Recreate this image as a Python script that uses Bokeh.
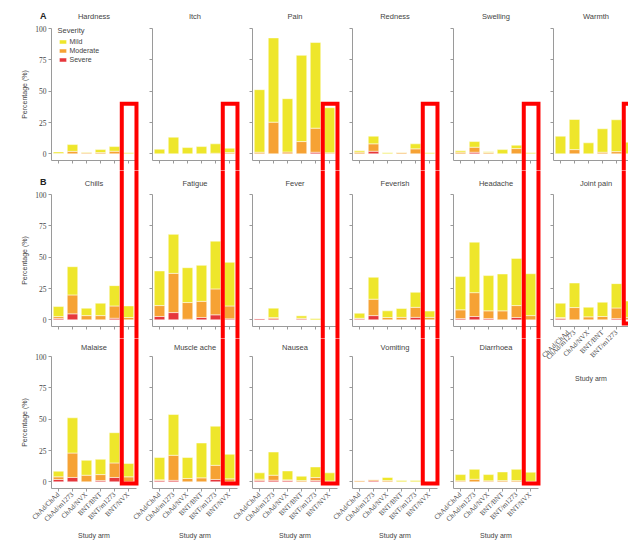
from bokeh.plotting import figure
from bokeh.layouts import row, column
from bokeh.models import (Range1d, FixedTicker, ColumnDataSource, Legend, LegendItem,
                          PolyAnnotation, Label, LinearAxis)
from bokeh.embed import file_html
from bokeh.resources import INLINE

# ---------------- data ----------------
arms = ["ChAd/ChAd", "ChAd/m1273", "ChAd/NVX", "BNT/BNT", "BNT/m1273", "BNT/NVX"]
severities = ["Mild", "Moderate", "Severe"]
yticks = [0, 25, 50, 75, 100]

hardness_mild = [1.2, 5.4, 0.5, 2.4, 3.7, 0.8]
hardness_moderate = [0.3, 2.0, 0.8, 1.0, 2.1, 0.0]
hardness_severe = [0, 0, 0, 0, 0, 0]

itch_mild = [3.7, 13.3, 5.0, 5.8, 7.5, 3.5]
itch_moderate = [0, 0, 0, 0, 0.5, 1.0]
itch_severe = [0, 0, 0, 0, 0, 0]

pain_mild = [49.9, 67.2, 42.5, 68.8, 68.3, 36.0]
pain_moderate = [1.3, 25.3, 1.5, 9.8, 19.2, 0.8]
pain_severe = [0, 0, 0, 0, 1.3, 0]

redness_mild = [1.1, 6.1, 0.8, 0.3, 4.0, 0.8]
redness_moderate = [1.3, 5.9, 0, 1.0, 4.0, 0]
redness_severe = [0, 2.1, 0, 0, 0, 0]

swelling_mild = [1.1, 4.5, 0.6, 3.4, 2.7, 0.8]
swelling_moderate = [1.3, 4.0, 1.0, 0, 4.2, 0]
swelling_severe = [0, 1.3, 0, 0, 0, 0]

warmth_mild = [14.1, 24.0, 8.8, 18.7, 25.4, 9.3]
warmth_moderate = [0, 3.4, 0, 1.3, 1.8, 0]
warmth_severe = [0, 0, 0, 0, 0, 0]

chills_mild = [8.0, 22.5, 5.9, 9.9, 16.2, 9.2]
chills_moderate = [1.6, 15.1, 3.4, 3.4, 9.8, 1.9]
chills_severe = [1.0, 4.8, 0, 0, 1.3, 0]

fatigue_mild = [27.6, 31.1, 27.8, 28.7, 38.1, 34.8]
fatigue_moderate = [8.7, 31.3, 13.3, 12.9, 20.7, 10.3]
fatigue_severe = [2.7, 5.8, 0.5, 1.9, 4.0, 0.8]

fever_mild = [0, 7.4, 0, 1.9, 1.0, 0]
fever_moderate = [0, 1.0, 0, 0.6, 0, 0]
fever_severe = [1.0, 0.9, 0, 0.7, 0, 0]

feverish_mild = [4.0, 17.5, 5.3, 7.0, 12.0, 5.0]
feverish_moderate = [0.5, 13.1, 1.9, 2.0, 8.0, 2.0]
feverish_severe = [0.8, 3.4, 0, 0, 2.0, 0]

headache_mild = [26.5, 40.3, 28.1, 29.4, 37.6, 33.4]
headache_moderate = [7.0, 19.0, 6.2, 7.2, 9.5, 3.4]
headache_severe = [1.0, 2.7, 1.0, 0, 1.9, 0]

jointpain_mild = [11.4, 19.6, 7.7, 11.4, 19.4, 13.0]
jointpain_moderate = [0.9, 9.8, 2.4, 2.7, 8.5, 2.0]
jointpain_severe = [1.0, 0, 0, 0, 1.0, 0]

malaise_mild = [4.5, 28.1, 11.9, 12.2, 24.1, 10.6]
malaise_moderate = [2.1, 19.5, 5.3, 4.8, 11.6, 4.0]
malaise_severe = [1.9, 3.5, 0, 1.0, 3.5, 0]

muscleache_mild = [17.8, 32.5, 16.7, 27.8, 31.2, 19.6]
muscleache_moderate = [0.6, 20.0, 2.7, 3.2, 11.3, 2.4]
muscleache_severe = [1.0, 1.2, 0, 0, 1.9, 0]

nausea_mild = [5.1, 18.5, 7.1, 3.5, 8.4, 6.5]
nausea_moderate = [1.1, 4.0, 0.6, 1.0, 2.5, 0.7]
nausea_severe = [1.0, 1.3, 1.0, 0, 1.0, 0]

vomiting_mild = [0, 0, 2.5, 1.0, 1.0, 0]
vomiting_moderate = [1.0, 1.0, 1.0, 0, 0, 0]
vomiting_severe = [0, 0.9, 0, 0, 0, 0]

diarrhoea_mild = [5.0, 7.9, 5.0, 6.9, 9.0, 7.2]
diarrhoea_moderate = [0.8, 2.1, 0.8, 1.0, 1.0, 0.5]
diarrhoea_severe = [0, 0, 0, 0, 0, 0]

panels = [
    [("Hardness", hardness_mild, hardness_moderate, hardness_severe),
     ("Itch", itch_mild, itch_moderate, itch_severe),
     ("Pain", pain_mild, pain_moderate, pain_severe),
     ("Redness", redness_mild, redness_moderate, redness_severe),
     ("Swelling", swelling_mild, swelling_moderate, swelling_severe),
     ("Warmth", warmth_mild, warmth_moderate, warmth_severe)],
    [("Chills", chills_mild, chills_moderate, chills_severe),
     ("Fatigue", fatigue_mild, fatigue_moderate, fatigue_severe),
     ("Fever", fever_mild, fever_moderate, fever_severe),
     ("Feverish", feverish_mild, feverish_moderate, feverish_severe),
     ("Headache", headache_mild, headache_moderate, headache_severe),
     ("Joint pain", jointpain_mild, jointpain_moderate, jointpain_severe)],
    [("Malaise", malaise_mild, malaise_moderate, malaise_severe),
     ("Muscle ache", muscleache_mild, muscleache_moderate, muscleache_severe),
     ("Nausea", nausea_mild, nausea_moderate, nausea_severe),
     ("Vomiting", vomiting_mild, vomiting_moderate, vomiting_severe),
     ("Diarrhoea", diarrhoea_mild, diarrhoea_moderate, diarrhoea_severe)],
]
panel_letters = ["A", "B", None]

# ---------------- style / geometry ----------------
YELLOW = "#EEE62B"
ORANGE = "#F6A234"
RED = "#E6373C"
AXIS = "#9A9A9A"
TXT = "#444444"
SANS = "Liberation Sans"
SERIF = "Liberation Serif"

COL_W = [144, 101, 100, 100, 101, 82]    # nominal canvas widths
COL_LB = [51, 8, 7, 7, 8, 7]             # frame offset from nominal left edge
COL_EXT = [0, 36, 36, 36, 36, 6]         # overlap to the left (for tick labels)
PANEL_W = 85                             # width of the axis extent in px
ROW_H = [170, 168, 202]
ROW_TB = [28, 24, 18]                    # px from canvas top to the 100% line
TITLE_PX = [15.5, 12.7, 9.3]             # px from canvas top to title centre
LETTER_PX = [15, 11.7, None]
FRAME_H = 132
PX_PER_ARM = 14.0
Y0 = -5.3
PX_PER_PCT = FRAME_H / (100 - Y0)
BOX_L, BOX_R, BOX_TOP = 4.52, 5.57, 40


def make_panel(r, c, spec, height, labelled_x):
    name, mild, moderate, severe = spec
    ext = COL_EXT[c]
    W = COL_W[c] + ext
    L = COL_LB[c] + ext
    x0 = -0.5 - L / PX_PER_ARM
    x1 = x0 + W / PX_PER_ARM
    y1 = 100 + ROW_TB[r] / PX_PER_PCT
    y0 = y1 - height / PX_PER_PCT
    xb = min(-0.5 + PANEL_W / PX_PER_ARM, x1)

    p = figure(width=W, height=height,
               x_range=Range1d(x0, x1), y_range=Range1d(y0, y1),
               x_axis_location=None, y_axis_location=None,
               output_backend="svg", toolbar_location=None, min_border=0,
               outline_line_color=None, background_fill_color=None,
               border_fill_color=None)
    p.grid.visible = False
    src = ColumnDataSource(dict(x=list(range(len(arms))), Mild=mild,
                                Moderate=moderate, Severe=severe))
    rs = p.vbar_stack(["Severe", "Moderate", "Mild"], x="x", width=0.75,
                      color=[RED, ORANGE, YELLOW], line_color="white",
                      line_width=0.5, source=src)

    # axes drawn at fixed data locations
    ya = LinearAxis(fixed_location=-0.5, bounds=(Y0, 100),
                    ticker=FixedTicker(ticks=yticks))
    xa = LinearAxis(fixed_location=Y0, bounds=(-0.5, xb),
                    ticker=FixedTicker(ticks=list(range(len(arms)))),
                    major_label_overrides={i: a for i, a in enumerate(arms)})
    for ax in (xa, ya):
        ax.axis_line_color = AXIS
        ax.axis_line_width = 1
        ax.major_tick_line_color = AXIS
        ax.major_tick_out = 3
        ax.major_tick_in = 0
        ax.minor_tick_out = 0
        ax.minor_tick_in = 0
        ax.major_label_text_font = SERIF
        ax.major_label_text_font_size = "7px"
        ax.major_label_text_color = None
        ax.major_label_standoff = 2

    if c == 0:
        ya.major_label_text_color = TXT
        ya.major_label_text_font_size = "7.5px"
        ya.axis_label = "Percentage (%)"
        ya.axis_label_text_font = SANS
        ya.axis_label_text_font_size = "7px"
        ya.axis_label_text_font_style = "normal"
        ya.axis_label_text_color = TXT
        ya.axis_label_standoff = 4

    if labelled_x:
        xa.major_label_text_color = TXT
        xa.major_label_orientation = 0.785398
        xa.axis_label = "Study arm"
        xa.axis_label_text_font = SANS
        xa.axis_label_text_font_size = "7px"
        xa.axis_label_text_font_style = "normal"
        xa.axis_label_text_color = TXT
        xa.axis_label_standoff = 8 if r == 1 else 3

    p.add_layout(ya, "left")
    p.add_layout(xa, "below")

    mid = -0.5 + PANEL_W / PX_PER_ARM / 2
    p.add_layout(Label(x=mid, y=100 + (ROW_TB[r] - TITLE_PX[r]) / PX_PER_PCT,
                       text=name, text_align="center", text_baseline="middle",
                       text_font=SANS, text_font_size="7.5px", text_color=TXT))

    if r == 0 and c == 0:
        items = [LegendItem(label=s, renderers=[rr]) for s, rr in
                 zip(severities, [rs[2], rs[1], rs[0]])]
        leg = Legend(items=items, title="Severity", location=(57.5, 107),
                     padding=0, margin=0, spacing=1, label_height=8,
                     glyph_height=5, glyph_width=9, label_standoff=3,
                     title_standoff=2, background_fill_alpha=0,
                     border_line_color=None,
                     label_text_font=SANS, label_text_font_size="7px",
                     label_text_color=TXT, title_text_font=SANS,
                     title_text_font_size="7.5px", title_text_font_style="normal",
                     title_text_color=TXT)
        p.add_layout(leg, "center")

    letter = panel_letters[r] if c == 0 else None
    if letter:
        p.add_layout(Label(x=-0.5 - 8.3 / PX_PER_ARM,
                           y=100 + (ROW_TB[r] - LETTER_PX[r]) / PX_PER_PCT,
                           text=letter, text_align="center", text_baseline="middle",
                           text_font=SANS, text_font_size="9px",
                           text_font_style="bold", text_color="#222222"))

    # red highlight around the BNT/NVX arm (continues across the rows)
    top = BOX_TOP if r == 0 else 400
    if r == 2:
        bottom = -1.3
    elif r == 1 and c == 5:
        bottom = -2.9
    else:
        bottom = -400
    p.add_layout(PolyAnnotation(xs=[BOX_L, BOX_L, BOX_R, BOX_R],
                                ys=[bottom, top, top, bottom],
                                fill_color=None, fill_alpha=0,
                                line_color="#FF0000", line_alpha=1,
                                line_width=4, line_join="miter"))
    return p


cols = []
for c in range(6):
    figs = []
    for r in range(3):
        if c >= len(panels[r]):
            continue
        height = ROW_H[r]
        labelled = (r == 2) or (r == 1 and c == 5)
        if r == 1 and c == 5:
            height = 215
        figs.append(make_panel(r, c, panels[r][c], height, labelled))
    cols.append(column(*figs, spacing=0, margin=(0, 0, 0, -COL_EXT[c])))

layout = row(*cols, spacing=0)
open("out.html", "w").write(file_html(layout, INLINE))
